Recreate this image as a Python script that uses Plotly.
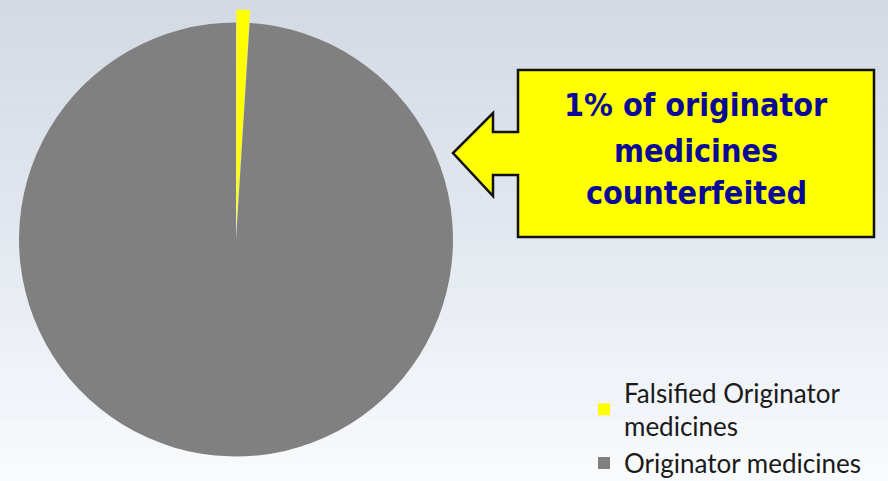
import plotly.graph_objects as go

# ---- data ----
labels = ["Falsified Originator<br>medicines", "Originator medicines"]
values = [1, 99]
colors = ["#ffff00", "#808080"]
callout_lines = ["1% of originator", "medicines", "counterfeited"]

W, H = 888, 481

def px(x):
    return x / W

def py(y):
    return 1 - y / H

fig = go.Figure()

fig.add_trace(go.Pie(
    labels=labels,
    values=values,
    marker=dict(colors=colors, line=dict(width=0)),
    sort=False,
    direction="clockwise",
    rotation=0,
    pull=[0.06, 0],
    textinfo="none",
    hoverinfo="label+percent",
    domain=dict(x=[px(236 - 230), px(236 + 230)], y=[py(239.5 + 230), py(239.5 - 230)]),
))

shapes = []
# background vertical gradient
top = (211, 218, 228)
mid = (228, 233, 240)
bot = (248, 250, 252)
n = 30
for i in range(n):
    t = i / (n - 1)
    if t < 0.5:
        a, b, s = top, mid, t / 0.5
    else:
        a, b, s = mid, bot, (t - 0.5) / 0.5
    c = tuple(int(round(a[k] + (b[k] - a[k]) * s)) for k in range(3))
    shapes.append(dict(type="rect", xref="paper", yref="paper", layer="below",
                       x0=0, x1=1, y0=1 - (i + 1) / n, y1=1 - i / n,
                       line=dict(width=0), fillcolor="rgb(%d,%d,%d)" % c))

# callout arrow
pts = [(518, 70), (874, 70), (874, 237), (518, 237), (518, 175), (493, 175),
       (493, 196), (453, 153), (493, 113), (493, 132), (518, 132)]
path = "M " + " L ".join("%f,%f" % (px(x), py(y)) for x, y in pts) + " Z"
shapes.append(dict(type="path", xref="paper", yref="paper", path=path,
                   fillcolor="#ffff00", line=dict(color="#111111", width=2.5)))

annotations = []
for line, yb in zip(callout_lines, [119, 165, 207]):
    annotations.append(dict(text="<b>%s</b>" % line, x=px(696), y=py(yb),
                            xref="paper", yref="paper", xanchor="center", yanchor="bottom",
                            showarrow=False, yshift=-7,
                            font=dict(family="DejaVu Sans Condensed, DejaVu Sans", size=32,
                                      color="#0a0a96")))

fig.update_layout(
    width=W, height=H,
    margin=dict(l=0, r=0, t=0, b=0, autoexpand=False),
    paper_bgcolor="#e4e9ef",
    plot_bgcolor="rgba(0,0,0,0)",
    shapes=shapes,
    annotations=annotations,
    showlegend=True,
    legend=dict(x=px(584), y=py(369), xanchor="left", yanchor="top",
                bgcolor="rgba(0,0,0,0)",
                font=dict(family="Lato, Open Sans", size=26, color="#1a1a1a"),
                itemwidth=30, tracegroupgap=0),
)

fig.write_html("out.html", config={"displayModeBar": False},
               post_script="document.body.style.margin='0px';")
